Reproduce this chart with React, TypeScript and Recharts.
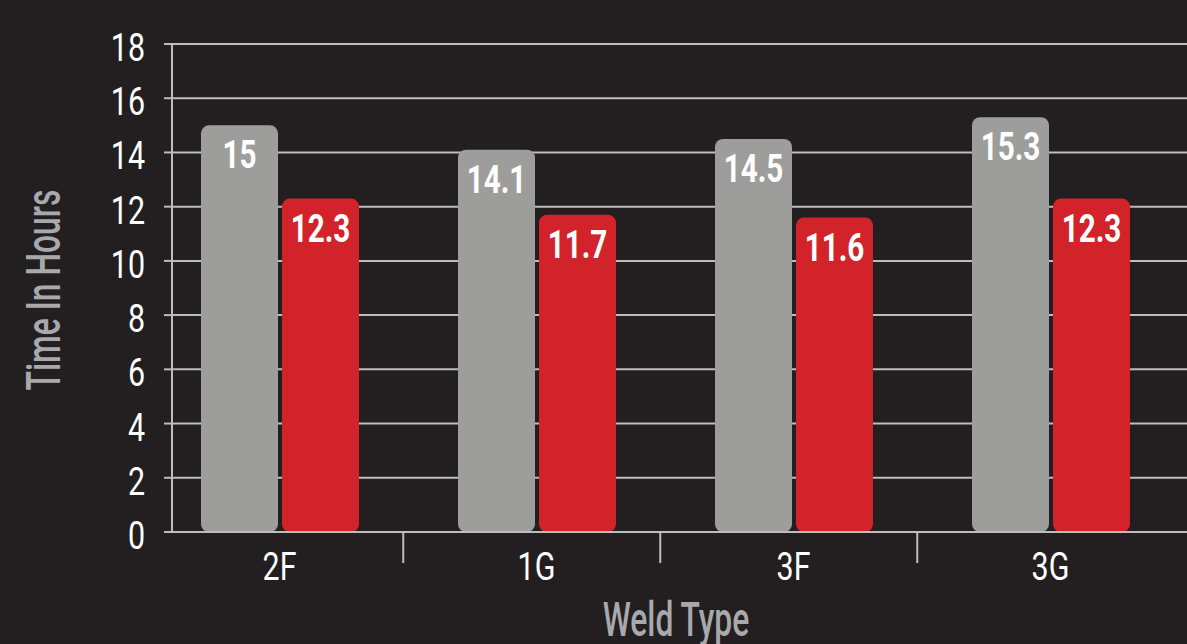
import { Bar, BarChart, CartesianGrid, LabelList, XAxis, YAxis } from "recharts";

const weldTypes = ["2F", "1G", "3F", "3G"];
const grayHours = [15, 14.1, 14.5, 15.3];
const redHours = [12.3, 11.7, 11.6, 12.3];
const yTicks = [0, 2, 4, 6, 8, 10, 12, 14, 16, 18];

const data = weldTypes.map((weld, i) => ({ weld, gray: grayHours[i], red: redHours[i] }));

const BG = "#231F20";
const GRID = "#BDBDBD";
const TITLE = "#A7A9AC";
const FONT = "Roboto, 'DejaVu Sans Condensed', sans-serif";
const BAND = 257.5;

// squeezed text, the original uses a condensed face we don't have
function Narrow({ x, y, sx, anchor = "middle", size, weight = 400, fill = "#FFFFFF", rotate = 0, children }: any) {
  return (
    <text
      transform={`translate(${x},${y}) rotate(${rotate}) scale(${sx},1)`}
      textAnchor={anchor}
      fill={fill}
      fontSize={size}
      fontWeight={weight}
      fontFamily={FONT}
    >
      {children}
    </text>
  );
}

function WeldTick(props: any) {
  const { x, y, payload, index } = props;
  return (
    <g>
      <Narrow x={x} y={y + 48} sx={0.8} size={38}>
        {payload.value}
      </Narrow>
      {index < weldTypes.length - 1 && (
        <line x1={x + BAND / 2 - 5} x2={x + BAND / 2 - 5} y1={y} y2={y + 31} stroke={GRID} strokeWidth={2} />
      )}
    </g>
  );
}

function HourTick(props: any) {
  const { x, y, payload } = props;
  return (
    <Narrow x={x} y={y + 17} sx={0.8} size={38} anchor="end">
      {payload.value}
    </Narrow>
  );
}

function BarValue(props: any) {
  const { x, y, width, value } = props;
  return (
    <Narrow x={x + width / 2} y={y + 43} sx={0.78} size={38} weight={700}>
      {value}
    </Narrow>
  );
}

export default function App() {
  return (
    <div style={{ position: "absolute", left: 0, top: 0, width: 1187, height: 644, overflow: "hidden", background: BG }}>
      <BarChart
        width={1200}
        height={660}
        data={data}
        margin={{ top: 44, right: 0, left: 0, bottom: 48 }}
        barSize={77}
        barGap={4}
      >
        <CartesianGrid horizontal vertical={false} stroke={GRID} strokeWidth={2} />
        <XAxis
          dataKey="weld"
          height={80}
          padding={{ left: -21, right: 21 }}
          axisLine={{ stroke: GRID, strokeWidth: 2 }}
          tickLine={false}
          tickSize={0}
          tickMargin={0}
          tick={<WeldTick />}
          interval={0}
          label={{
            content: () => (
              <Narrow x={676} y={636} sx={0.65} size={49} weight={500} fill={TITLE}>
                Weld Type
              </Narrow>
            ),
          }}
        />
        <YAxis
          width={172}
          domain={[0, 18]}
          ticks={yTicks}
          interval={0}
          axisLine={{ stroke: GRID, strokeWidth: 2 }}
          tickLine={{ stroke: GRID, strokeWidth: 2 }}
          tickSize={8}
          tickMargin={19}
          tick={<HourTick />}
          label={{
            content: () => (
              <Narrow x={60} y={290} sx={0.65} size={49} weight={500} fill={TITLE} rotate={-90}>
                Time In Hours
              </Narrow>
            ),
          }}
        />
        <Bar dataKey="gray" fill="#9D9D9B" radius={8} isAnimationActive={false}>
          <LabelList dataKey="gray" content={<BarValue />} />
        </Bar>
        <Bar dataKey="red" fill="#D2232A" radius={8} isAnimationActive={false}>
          <LabelList dataKey="red" content={<BarValue />} />
        </Bar>
      </BarChart>
    </div>
  );
}
